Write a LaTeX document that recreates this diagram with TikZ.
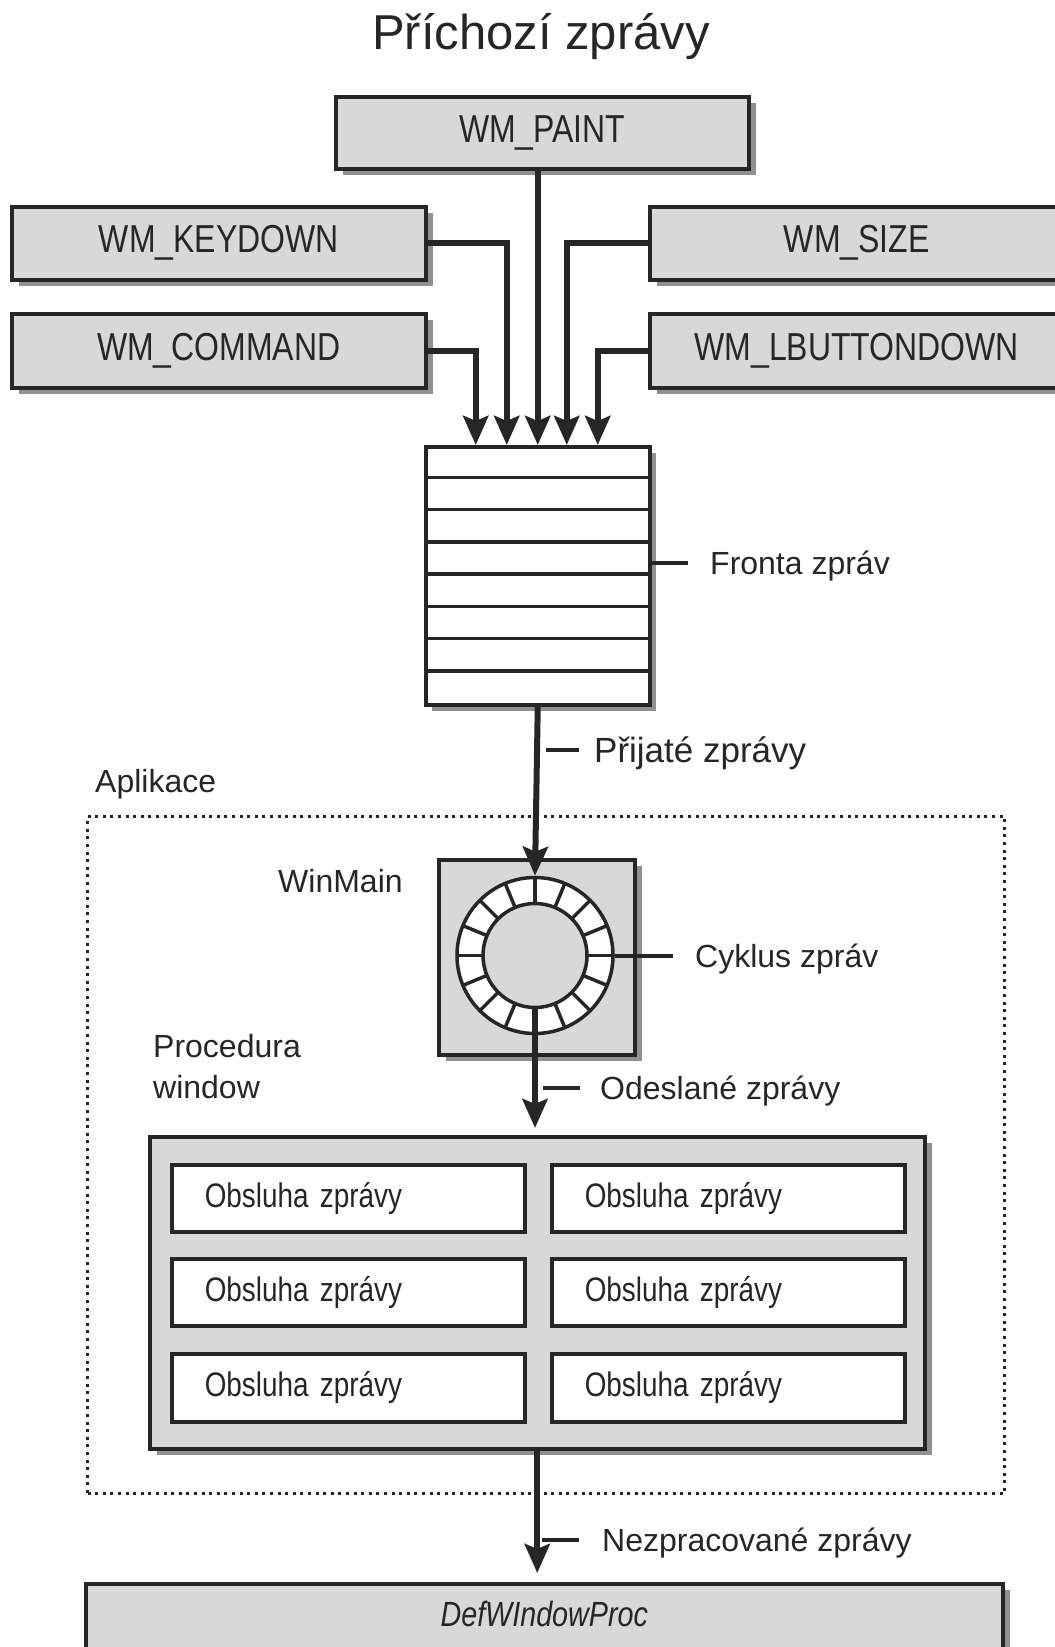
\documentclass[tikz,border=0pt]{standalone}
\usepackage{fontspec}
\setmainfont{Liberation Sans}
\newfontfamily\narrowfont[FakeStretch=0.82]{Liberation Sans}
\usetikzlibrary{arrows.meta,shadows,calc}
\definecolor{ink}{RGB}{38,38,38}
\definecolor{boxgray}{RGB}{216,216,216}
\definecolor{shadowgray}{RGB}{145,145,145}
\tikzset{
  shadowbox/.style={draw=ink, line width=3.5pt, fill=boxgray,
    general shadow={fill=shadowgray, shadow xshift=7pt, shadow yshift=-6pt},
    inner sep=0pt, anchor=north west, text=ink},
  msgbox/.style={shadowbox, font=\narrowfont\fontsize{39pt}{44pt}\selectfont},
  handler/.style={draw=ink, line width=3.5pt, fill=white, anchor=north west,
    inner xsep=33pt, inner ysep=0pt, align=left, text width=287pt,
    font=\narrowfont\fontsize{34pt}{40pt}\selectfont, text=ink},
  lbl/.style={anchor=west, inner sep=0pt, text=ink,
    font=\fontsize{32pt}{38pt}\selectfont, text height=23pt, text depth=0pt},
  conn/.style={draw=ink, line width=6pt, -{Stealth[length=29pt 0 0,width=25pt 0 0,inset=5pt]}},
  lead/.style={draw=ink, line width=3.5pt},
  qline/.style={draw=ink, line width=3.5pt},
  appframe/.style={draw=ink, line width=3pt, dash pattern=on 3pt off 4.6pt,
    anchor=north west, inner sep=0pt},
}
\begin{document}
\begin{tikzpicture}[x=1pt,y=-1pt]
\useasboundingbox (0,0) rectangle (1055,1647);
\clip (0,0) rectangle (1055,1647);
\fill[white] (0,0) rectangle (1055,1647);

% title
\node[anchor=base, inner sep=0pt, text=ink, font=\fontsize{49pt}{56pt}\selectfont]
  (title) at (541,49) {Příchozí zprávy};

% application frame
\node[appframe, minimum width=917pt, minimum height=677pt] (app) at (86,815) {};

% incoming message boxes
\node[msgbox, minimum width=413pt, minimum height=72pt] (paint) at (334,95) {WM\_PAINT};
\node[msgbox, minimum width=414pt, minimum height=73pt] (keydown) at (10,205) {WM\_KEYDOWN};
\node[msgbox, minimum width=414pt, minimum height=74pt] (command) at (10,312) {WM\_COMMAND};
\node[msgbox, minimum width=414pt, minimum height=73pt] (size) at (648,205) {WM\_SIZE};
\node[msgbox, minimum width=414pt, minimum height=74pt] (lbutton) at (648,312) {WM\_LBUTTONDOWN};

% message queue
\node[draw=ink, line width=3.5pt, fill=white, anchor=north west, inner sep=0pt,
  minimum width=224pt, minimum height=258pt,
  general shadow={fill=shadowgray, shadow xshift=6pt, shadow yshift=-6pt}]
  (queue) at (424,445) {};
\foreach \i in {1,...,7}
  \draw[qline] ($(queue.north west)+(0,\i*32.25)$) -- ($(queue.north east)+(0,\i*32.25)$);

\coordinate (qa) at ($(queue.north)+(-62,0)$);
\coordinate (qb) at ($(queue.north)+(-31,0)$);
\coordinate (qd) at ($(queue.north)+(29,0)$);
\coordinate (qe) at ($(queue.north)+(60,0)$);

\draw[conn] (paint.south -| queue.north) -- (queue.north);
\draw[conn] (keydown.east) -| (qb);
\draw[conn] (command.east) -| (qa);
\draw[conn] (size.west) -| (qd);
\draw[conn] (lbutton.west) -| (qe);

\node[lbl] (fronta) at (710,563) {Fronta zpráv};
\draw[lead] (queue.east |- fronta.west) -- ([xshift=-22pt]fronta.west);

% received messages
\node[lbl, font=\fontsize{35pt}{40pt}\selectfont, text height=25pt] (prijate) at (594,750) {Přijaté zprávy};
\node[lbl] (aplikace) at (95,780.5) {Aplikace};

% WinMain
\node[shadowbox, minimum width=196pt, minimum height=195pt] (winmain) at (437,858) {};
\node[lbl] (winmainlbl) at (278,880.5) {WinMain};
\node[circle, draw=ink, line width=3.5pt, fill=white, inner sep=0pt, minimum size=156pt]
  (ring) at (535,955.5) {};
\node[circle, draw=ink, line width=3.5pt, fill=boxgray, inner sep=0pt, minimum size=104pt]
  (ringin) at (ring.center) {};
\foreach \a in {0,22.5,...,337.5}
  \draw[qline] ($(ring.center)+(\a:52)$) -- ($(ring.center)+(\a:78)$);

\draw[conn] (queue.south) -- (ring.north);
\draw[lead] ([xshift=8pt]queue.south |- prijate.west) -- ([xshift=-15pt]prijate.west);

\node[lbl] (cyklus) at (695,956) {Cyklus zpráv};
\draw[lead] (ring.east |- cyklus.west) -- ([xshift=-22pt]cyklus.west);

% window procedure
\node[lbl] (proc1) at (153,1045.5) {Procedura};
\node[lbl] (proc2) at (153,1086.5) {window};
\node[shadowbox, minimum width=775pt, minimum height=312pt] (proc) at (148,1135) {};

\draw[conn, shorten >=7pt] (ringin.south) -- (proc.north -| ringin.south);
\node[lbl] (odeslane) at (600,1088) {Odeslané zprávy};
\draw[lead] ([xshift=-57pt]odeslane.west) -- ([xshift=-20pt]odeslane.west);

\node[handler, minimum height=67pt] (h11) at (170,1163) {Obsluha zprávy};
\node[handler, minimum height=67pt] (h12) at (550,1163) {Obsluha zprávy};
\node[handler, minimum height=67pt] (h21) at (170,1257) {Obsluha zprávy};
\node[handler, minimum height=67pt] (h22) at (550,1257) {Obsluha zprávy};
\node[handler, minimum height=68pt] (h31) at (170,1352) {Obsluha zprávy};
\node[handler, minimum height=68pt] (h32) at (550,1352) {Obsluha zprávy};

% DefWindowProc
\node[shadowbox, minimum width=917pt, inner xsep=0pt, inner ysep=18pt,
  text height=25pt, text depth=40pt,
  font=\narrowfont\itshape\fontsize{35pt}{40pt}\selectfont]
  (defw) at (84,1582) {DefWIndowProc};

\draw[conn, shorten >=9pt] (proc.south) -- (proc.south |- defw.north);
\node[lbl] (nezprac) at (602,1540) {Nezpracované zprávy};
\draw[lead] ([xshift=-60pt]nezprac.west) -- ([xshift=-23pt]nezprac.west);
\end{tikzpicture}
\end{document}
